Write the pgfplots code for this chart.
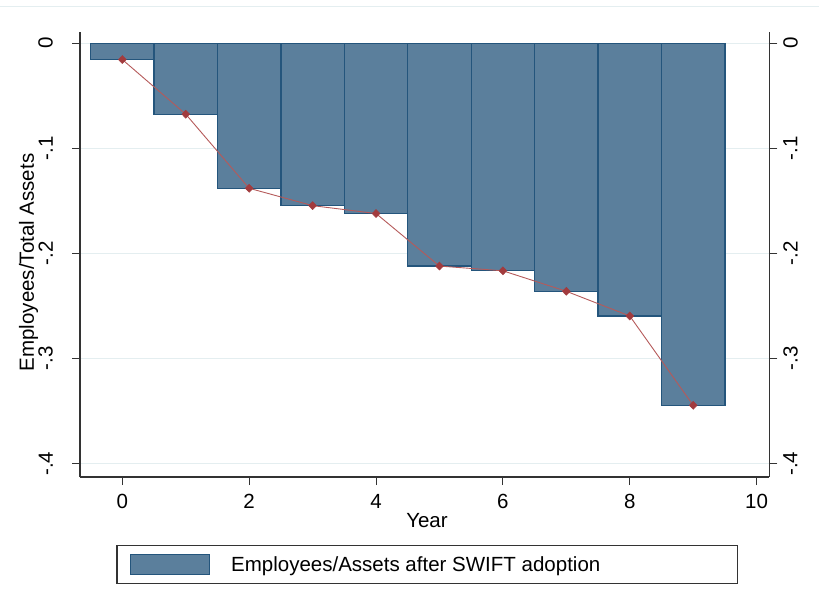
\documentclass[border=0pt]{standalone}
\usepackage{fontspec}
\setmainfont{Liberation Sans}
\usepackage{graphicx}
\usepackage{pgfplots}
\pgfplotsset{compat=1.18}
\definecolor{barfill}{HTML}{5B7F9C}
\definecolor{baredge}{HTML}{24557C}
\definecolor{linered}{HTML}{B55A5A}
\definecolor{markred}{HTML}{A23B3E}
\definecolor{gridc}{HTML}{E4EEF0}
\definecolor{axisc}{HTML}{333333}
\begin{document}
\begin{tikzpicture}[font=\fontsize{20.5}{24}\selectfont]
\path[use as bounding box] (0,0) rectangle (819pt,608pt);
\draw[gridc, line width=0.8pt] (0,601.3pt) -- (819pt,601.3pt);
\pgfplotsset{common/.style={
  scale only axis, width=689.3pt, height=445.3pt,
  at={(80pt,131pt)}, anchor=south west,
  xmin=-0.667, xmax=10.2, ymin=-0.4127, ymax=0.011,
  ytick={0,-0.1,-0.2,-0.3,-0.4},
  yticklabels={\rotatebox{90}{0},\rotatebox{90}{-.1},\rotatebox{90}{-.2},\rotatebox{90}{-.3},\rotatebox{90}{-.4}},
  tick align=outside, major tick length=8pt,
  every tick/.style={axisc, line width=1pt},
  axis line style={axisc, line width=1.2pt},
  /pgf/number format/assume math mode=true,
  tick label style={font=\fontsize{20.5}{24}\selectfont},
}}
\begin{axis}[common,
  axis x line*=bottom, axis y line*=left,
  xtick={0,2,4,6,8,10},
  xticklabels={0,2,4,6,8,10},
  ymajorgrids, major grid style={gridc, line width=0.8pt},
  xticklabel style={anchor=base, inner sep=0pt},
  xticklabel shift=23pt,
  yticklabel style={anchor=east, inner sep=0pt, xshift=-19pt},
  xlabel={Year},
  xlabel style={at={(axis description cs:0.5034,-0.1145)}, anchor=base, inner sep=0pt},
  ylabel={Employees/Total Assets},
  ylabel style={at={(axis description cs:-0.0747,0.4817)}, anchor=center, inner sep=0pt},
  legend style={at={(axis description cs:0.5035,-0.1527)}, anchor=north,
    draw=axisc, line width=1.2pt, inner sep=0pt, column sep=0pt,
    nodes={inner sep=0pt, font=\fontsize{20.5}{24}\selectfont}},
  legend image code/.code={
    \path[draw=none, fill=none] (-13.7pt,-19pt) rectangle (100.6pt,19pt);
    \draw[fill=barfill, draw=baredge, line width=1pt] (0pt,-10pt) rectangle (79pt,10pt);
  },
]
\addplot[ybar, bar width=1, fill=barfill, draw=baredge, line width=1.3pt]
  coordinates {(0,-0.0155) (1,-0.0675) (2,-0.138) (3,-0.1545) (4,-0.162)
               (5,-0.212) (6,-0.2165) (7,-0.236) (8,-0.2595) (9,-0.3445)};
\addlegendentry{\makebox[506pt][l]{Employees/Assets after SWIFT adoption}}
\addplot[linered, line width=0.9pt, mark=diamond*, mark size=4pt,
  mark options={fill=markred, draw=markred, line width=0.5pt, xscale=1.3}, forget plot]
  coordinates {(0,-0.0155) (1,-0.0675) (2,-0.138) (3,-0.1545) (4,-0.162)
               (5,-0.212) (6,-0.2165) (7,-0.236) (8,-0.2595) (9,-0.3445)};
\end{axis}
\begin{axis}[common,
  axis x line=none, axis y line*=right,
  yticklabel style={anchor=west, inner sep=0pt, xshift=5.7pt},
]
\addplot[draw=none, forget plot] coordinates {(0,0)};
\end{axis}
\end{tikzpicture}
\end{document}
